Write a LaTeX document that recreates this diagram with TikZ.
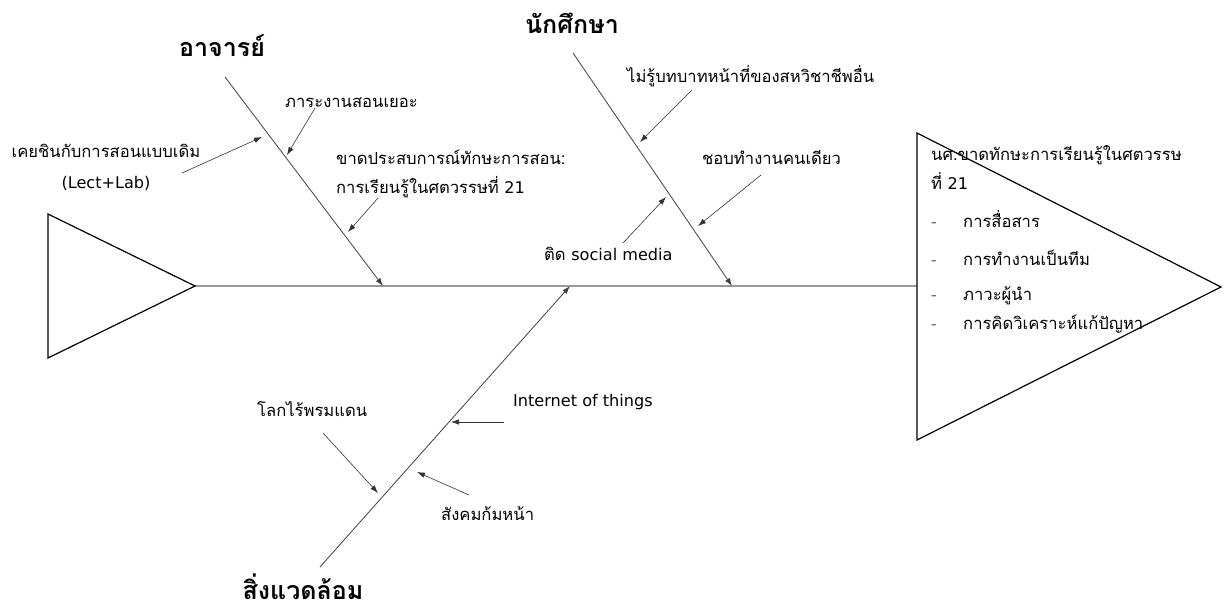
\documentclass[tikz,border=0pt]{standalone}
\usepackage{fontspec}
\usetikzlibrary{arrows.meta}
\newfontfamily\thaifont[Script=Thai]{Loma}
\newfontfamily\latfont[Scale=0.97]{DejaVu Sans}
\begin{document}
\begin{tikzpicture}[x=1pt,y=-1pt,
  lbl/.style={font=\thaifont\fontsize{16.6}{29}\selectfont, inner sep=0pt, anchor=base west},
  head/.style={font=\thaifont\bfseries\fontsize{25}{30}\selectfont, inner sep=0pt},
  bone/.style={draw=black!75, line width=0.8pt},
  sub/.style={draw=black!80, line width=0.6pt, -{Latex[length=8pt,width=5.5pt]}},
  tri/.style={draw=black, line width=1.2pt},
  spine/.style={draw=black!40, line width=1.6pt}]
\useasboundingbox (0,0) rectangle (1226,610);
% triangles
\coordinate (lt1) at (48,214);
\coordinate (lt2) at (48,358);
\coordinate (ltip) at (195,286);
\coordinate (rt1) at (917,133);
\coordinate (rt2) at (917,440);
\coordinate (rtip) at (1221,287);
\coordinate (rmid) at (917,286);
\draw[spine] (ltip) -- (rmid);
\draw[tri] (lt1) -- (ltip) -- (lt2) -- cycle;
\draw[tri] (rt1) -- (rtip) -- (rt2) -- cycle;
% heads
\node[head] (hT) at (222,46) {อาจารย์};
\node[head] (hS) at (572,23) {นักศึกษา};
\node[head] (hE) at (303,587) {สิ่งแวดล้อม};
% bones
\coordinate (bT1) at (225,77);
\coordinate (bT2) at (383,286);
\coordinate (bS1) at (573,53);
\coordinate (bS2) at (732,286);
\coordinate (bE1) at (320,567);
\coordinate (bE2) at (570,286);
\draw[bone, -{Latex[length=8pt,width=5.5pt]}] (bT1) -- (bT2);
\draw[bone, -{Latex[length=8pt,width=5.5pt]}] (bS1) -- (bS2);
\draw[bone, -{Latex[length=8pt,width=5.5pt]}] (bE1) -- (bE2);
% teacher causes
\node[lbl, anchor=base, align=center, font=\thaifont\fontsize{16.6}{31}\selectfont] (t1) at (106,188) {เคยชินกับการสอนแบบเดิม\\{\latfont (Lect+Lab)}};
\coordinate (t1a) at (182,173); \coordinate (t1b) at (262,137);
\draw[sub] (t1a) -- (t1b);
\node[lbl] (t2) at (285,107) {ภาระงานสอนเยอะ};
\coordinate (t2a) at (315,108); \coordinate (t2b) at (287,155);
\draw[sub] (t2a) -- (t2b);
\node[lbl, align=left] (t3) at (336,193) {ขาดประสบการณ์ทักษะการสอน:\\การเรียนรู้ในศตวรรษที่ {\latfont 21}};
\coordinate (t3a) at (378,198); \coordinate (t3b) at (348,232);
\draw[sub] (t3a) -- (t3b);
% student causes
\node[lbl] (s1) at (627,82) {ไม่รู้บทบาทหน้าที่ของสหวิชาชีพอื่น};
\coordinate (s1a) at (692,90); \coordinate (s1b) at (640,142);
\draw[sub] (s1a) -- (s1b);
\node[lbl] (s2) at (702,164) {ชอบทำงานคนเดียว};
\coordinate (s2a) at (761,175); \coordinate (s2b) at (698,226);
\draw[sub] (s2a) -- (s2b);
\node[lbl] (s3) at (544,260) {ติด {\latfont social media}};
\coordinate (s3a) at (623,243); \coordinate (s3b) at (666,197);
\draw[sub] (s3a) -- (s3b);
% environment causes
\node[lbl] (e1) at (257,416) {โลกไร้พรมแดน};
\coordinate (e1a) at (323,433); \coordinate (e1b) at (378,493);
\draw[sub] (e1a) -- (e1b);
\node[lbl] (e2) at (513,406) {\latfont Internet of things};
\coordinate (e2a) at (504,422); \coordinate (e2b) at (451,422);
\draw[sub] (e2a) -- (e2b);
\node[lbl] (e3) at (441,520) {สังคมก้มหน้า};
\coordinate (e3a) at (469,495); \coordinate (e3b) at (417,472);
\draw[sub] (e3a) -- (e3b);
% effect text
\node[lbl, align=left] (r1) at (931,189) {นศ.ขาดทักษะการเรียนรู้ในศตวรรษ\\ที่ {\latfont 21}};
\node[lbl, text=black!55] (d1) at (931,227) {-}; \node[lbl] (i1) at (963,227) {การสื่อสาร};
\node[lbl, text=black!55] (d2) at (931,265) {-}; \node[lbl] (i2) at (963,265) {การทำงานเป็นทีม};
\node[lbl, text=black!55] (d3) at (931,300) {-}; \node[lbl] (i3) at (963,300) {ภาวะผู้นำ};
\node[lbl, text=black!55] (d4) at (931,329) {-}; \node[lbl] (i4) at (963,329) {การคิดวิเคราะห์แก้ปัญหา};
\end{tikzpicture}
\end{document}
